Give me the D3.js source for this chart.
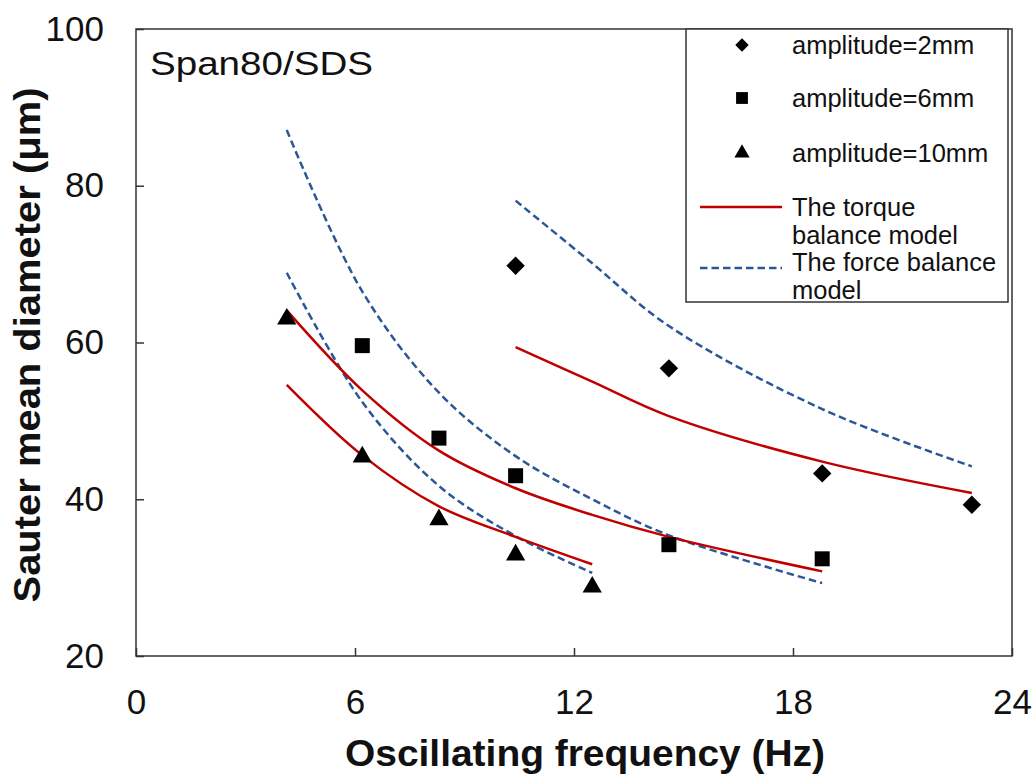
<!DOCTYPE html>
<html>
<head>
<meta charset="utf-8">
<script src="https://cdn.jsdelivr.net/npm/d3@7"></script>
<style>
	body { margin: 0; background: #fff; }
	svg text { font-family: "Liberation Sans", Arial, sans-serif; fill: #111; }
</style>
</head>
<body>
<div id="chart"></div>
<script>
// measured points, amplitude = 2, 6, 10 mm
var amp2Freq = [10.4, 14.6, 18.8, 22.9];
var amp2Dia = [69.8, 56.7, 43.3, 39.3];
var amp6Freq = [6.2, 8.3, 10.4, 14.6, 18.8];
var amp6Dia = [59.6, 47.8, 43.0, 34.2, 32.4];
var amp10Freq = [4.13, 6.2, 8.3, 10.4, 12.5];
var amp10Dia = [63.0, 45.4, 37.4, 32.9, 28.8];

// model curves
var model2Freq = [10.4, 12.5, 14.6, 18.8, 22.9];
var torque2 = [59.4, 55.0, 50.6, 44.8, 40.8];
var force2 = [78.1, 70.1, 62.1, 51.5, 44.2];
var model6Freq = [4.13, 6.2, 8.3, 10.4, 12.5, 14.6, 18.8];
var torque6 = [64.1, 53.9, 46.2, 41.4, 38.0, 35.2, 30.8];
var force6 = [87.1, 66.5, 53.6, 45.5, 40.0, 35.4, 29.3];
var model10Freq = [4.13, 6.2, 8.3, 10.4, 12.5];
var torque10 = [54.6, 45.6, 39.1, 35.2, 31.7];
var force10 = [68.9, 52.4, 41.7, 35.3, 30.6];

var xTicks = [0, 6, 12, 18, 24];
var yTicks = [20, 40, 60, 80, 100];
var legendLabels = ["amplitude=2mm", "amplitude=6mm", "amplitude=10mm"];

var W = 1034, H = 775;
var margin = {top: 29, right: 22, bottom: 119, left: 136};
var width = W - margin.left - margin.right;
var height = H - margin.top - margin.bottom;

var red = "#c00000", blue = "#2b5797";

var svg = d3.select("#chart").append("svg")
	.attr("width", W)
	.attr("height", H);

var g = svg.append("g")
	.attr("transform", "translate(" + margin.left + "," + margin.top + ")");

var x = d3.scaleLinear().domain([0, 24]).range([0, width]);
var y = d3.scaleLinear().domain([20, 100]).range([height, 0]);

var xAxis = g.append("g")
	.attr("transform", "translate(0," + height + ")")
	.call(d3.axisBottom(x).tickValues(xTicks).tickSizeInner(-8).tickSizeOuter(0).tickPadding(33));
var yAxis = g.append("g")
	.call(d3.axisLeft(y).tickValues(yTicks).tickSizeInner(-8).tickSizeOuter(0).tickPadding(32));

[xAxis, yAxis].forEach(function(a) {
	a.select(".domain").remove();
	a.selectAll(".tick line").attr("stroke", "#333").attr("stroke-width", 1.5);
	a.selectAll(".tick text").attr("font-size", 35).attr("font-family", "Liberation Sans, Arial, sans-serif").attr("fill", "#111");
});

// frame
g.append("rect")
	.attr("width", width).attr("height", height)
	.attr("fill", "none").attr("stroke", "#333").attr("stroke-width", 1.5);

function zip(xs, ys) {
	return xs.map(function(v, i) { return [v, ys[i]]; });
}

var line = d3.line()
	.x(function(d) { return x(d[0]); })
	.y(function(d) { return y(d[1]); })
	.curve(d3.curveCatmullRom.alpha(0.5));

var models = [
	{freq: model2Freq, vals: force2, type: "force"},
	{freq: model6Freq, vals: force6, type: "force"},
	{freq: model10Freq, vals: force10, type: "force"},
	{freq: model2Freq, vals: torque2, type: "torque"},
	{freq: model6Freq, vals: torque6, type: "torque"},
	{freq: model10Freq, vals: torque10, type: "torque"}
];

g.selectAll(".model").data(models).enter().append("path")
	.attr("class", "model")
	.attr("d", function(m) { return line(zip(m.freq, m.vals)); })
	.attr("fill", "none")
	.attr("stroke", function(m) { return m.type == "force" ? blue : red; })
	.attr("stroke-width", 2.5)
	.attr("stroke-dasharray", function(m) { return m.type == "force" ? "7.5,4" : null; });

var diamond = d3.symbol().type(d3.symbolSquare).size(170);
var square = d3.symbol().type(d3.symbolSquare).size(225);
var triangle = d3.symbol().type(d3.symbolTriangle).size(160);

var series = [
	{freq: amp2Freq, vals: amp2Dia, sym: diamond, rot: 45, legSize: 90},
	{freq: amp6Freq, vals: amp6Dia, sym: square, rot: 0, legSize: 140},
	{freq: amp10Freq, vals: amp10Dia, sym: triangle, rot: 0, legSize: 100}
];

series.forEach(function(s) {
	g.selectAll(null).data(zip(s.freq, s.vals)).enter().append("path")
		.attr("d", s.sym())
		.attr("fill", "#000")
		.attr("transform", function(d) {
			return "translate(" + x(d[0]) + "," + y(d[1]) + ") rotate(" + s.rot + ")";
		});
});

g.append("text")
	.attr("x", 14).attr("y", 46)
	.attr("font-size", 34)
	.attr("textLength", 223).attr("lengthAdjust", "spacingAndGlyphs")
	.text("Span80/SDS");

// legend
var lg = svg.append("g").attr("transform", "translate(686,29)");
lg.append("rect")
	.attr("width", 322).attr("height", 273)
	.attr("fill", "#fff").attr("stroke", "#333").attr("stroke-width", 1.5);

var legY = [16, 69, 124];
series.forEach(function(s, i) {
	lg.append("path")
		.attr("d", d3.symbol().type(s.sym.type()).size(s.legSize)())
		.attr("transform", "translate(56," + legY[i] + ") rotate(" + s.rot + ")")
		.attr("fill", "#000");
	lg.append("text")
		.attr("x", 106).attr("y", legY[i]).attr("dy", "0.35em")
		.attr("font-size", 25.5)
		.text(legendLabels[i]);
});

lg.append("line").attr("x1", 14).attr("x2", 96).attr("y1", 178).attr("y2", 178)
	.attr("stroke", red).attr("stroke-width", 2.5);
lg.append("line").attr("x1", 14).attr("x2", 96).attr("y1", 239).attr("y2", 239)
	.attr("stroke", blue).attr("stroke-width", 2.5).attr("stroke-dasharray", "7.5,4");

[["The torque", 178], ["balance model", 206], ["The force balance", 233], ["model", 261]].forEach(function(t) {
	lg.append("text")
		.attr("x", 106).attr("y", t[1]).attr("dy", "0.35em")
		.attr("font-size", 25.5)
		.text(t[0]);
});

// axis titles
svg.append("text")
	.attr("x", 585).attr("y", 766)
	.attr("text-anchor", "middle")
	.attr("font-size", 36).attr("font-weight", "bold")
	.attr("textLength", 480).attr("lengthAdjust", "spacingAndGlyphs")
	.text("Oscillating frequency (Hz)");

svg.append("text")
	.attr("transform", "translate(40,345) rotate(-90)")
	.attr("text-anchor", "middle")
	.attr("font-size", 36).attr("font-weight", "bold")
	.attr("textLength", 515).attr("lengthAdjust", "spacingAndGlyphs")
	.text("Sauter mean diameter (μm)");
</script>
</body>
</html>
